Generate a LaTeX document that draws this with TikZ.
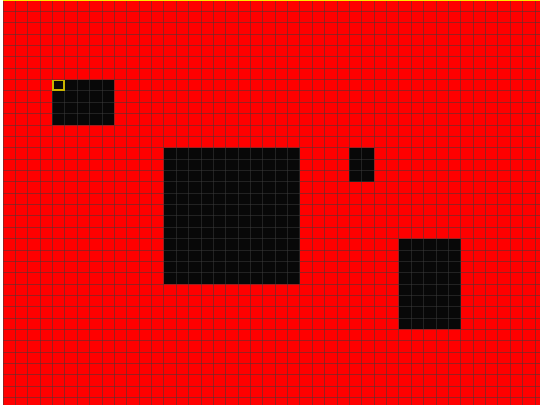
\documentclass[tikz,border=0pt]{standalone}
\definecolor{cellred}{RGB}{255,0,0}
\definecolor{blk}{RGB}{8,8,8}
\definecolor{gridgray}{RGB}{60,60,60}
\definecolor{selyellow}{RGB}{200,180,0}
\definecolor{topyellow}{RGB}{255,230,0}
\tikzset{
  gridline/.style={draw=gridgray, draw opacity=0.5, line width=0.8pt},
  blockcell/.style={fill=blk},
  selbox/.style={draw=selyellow, line width=1.6pt},
  topedge/.style={draw=topyellow, line width=1.3pt}
}
\begin{document}
\begin{tikzpicture}[x=1pt,y=-1pt]
\fill[white] (0,0) rectangle (540,405);
\useasboundingbox (0,0) rectangle (540,405);
\begin{scope}[shift={(3,0)}, x=12.37pt, y=-11.36pt]
  \fill[cellred] (0,0) rectangle (43.42,35.66);
  \fill[blockcell] (4,7) rectangle (9,11);
  \fill[blockcell] (13,13) rectangle (24,25);
  \fill[blockcell] (28,13) rectangle (30,16);
  \fill[blockcell] (32,21) rectangle (37,29);
  \foreach \c in {0,...,43} {\draw[gridline] (\c,0) -- (\c,35.66);}
  \foreach \r in {1,...,35} {\draw[gridline] (0,\r) -- (43.42,\r);}
  \draw[selbox] (4.05,7.07) rectangle (4.95,7.93);
\end{scope}
\draw[topedge] (3,0.65) -- (540,0.65);
\end{tikzpicture}
\end{document}
